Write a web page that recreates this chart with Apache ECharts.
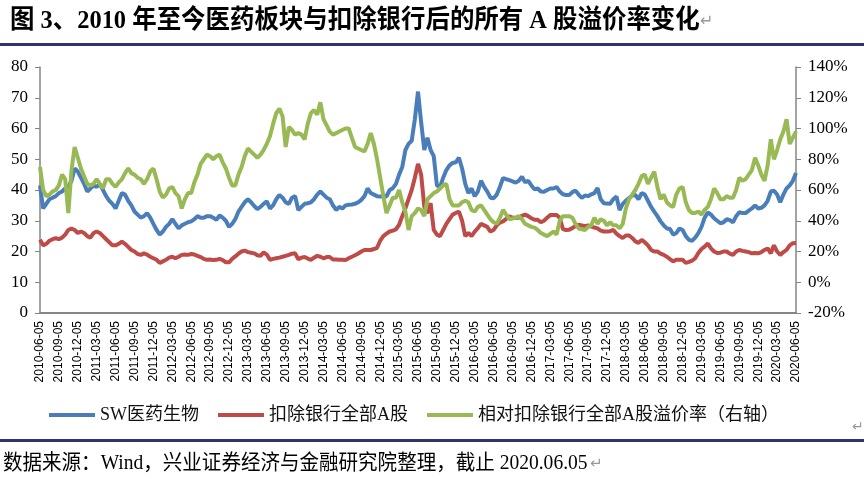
<!DOCTYPE html>
<html>
<head>
<meta charset="utf-8">
<script src="https://cdn.jsdelivr.net/npm/echarts@6/dist/echarts.min.js"></script>
<style>
html,body{margin:0;padding:0;background:#fff;}
#chart{width:864px;height:479px;}
</style>
</head>
<body>
<div id="chart"></div>
<script>
// Semi-monthly readings, 2010-06-05 .. 2020-06-05
const pharmaPE = [
41.5,34,35.5,37,37.5,38,39,39.5,40.5,41,43,47,46,44,42,39.5,40.5,41.5,41,42,40,38,36.5,35.5,34,36.5,39,38.5,36.5,35,33,32,31,31.5,32.5,31,29,27,25.5,26.5,28,29,30.5,29,27.5,28.5,29,29.5,
29.8,30.5,31.5,31,31,31.5,31.5,31,30.3,31.7,31,30,28,29,30.5,33,34.5,36,37,36,34.8,33.8,34.5,35.5,36.3,34,35,37,38.4,37.5,36,35.5,37.5,38,33.5,34.5,35.5,35.7,36,37,38.5,39.5,38.5,37.5,37,35,33.5,34.5,
34,35,35.2,35.3,35.5,36,36.8,38,40.5,39,38.5,38,37.9,38,37.9,40,40.6,42,45,47.5,53,55,56,63,72,62,53,57,53,51,41.5,41,44,46.5,48,48.8,49,50.5,47,42,39,40.5,38,39.5,43,41,39.5,37.5,
37.3,38.5,41,43.9,43.5,43.2,42.8,42.4,43,44.3,42.5,43,41.5,40.2,40.5,39.5,39.4,40,40.5,40.5,41,39.5,38.6,38.4,38.4,39.3,39.8,38.5,37.4,38.2,38,38.6,39,40.6,37,35.7,35.6,35.5,37,37.9,33.5,35.5,36.5,37.4,38.2,38.4,37,
39,38.5,36.5,34.5,33,31.5,29.8,28.5,27.5,27.3,25.5,26,27.5,27,25,23.8,23.5,24.5,26,28,31,32.7,32,30.8,30,29.2,29.5,30.5,30.2,29.5,31.5,32.8,32.5,32.5,33.3,34,35,34,34.2,35,36.5,39.5,39.8,38.5,36,38.5,40.5,41.5,43,45.5
];
const allAexBankPE = [
23.8,22,22.5,23.5,24,24.3,24,24.5,25.5,27,27.5,27,26,26.5,26,25,24.5,26,26.5,26,25,24,23,22,22,22.5,23.2,22.5,21.5,20.5,20,19.2,18.9,19.4,19,18.3,17.8,17.3,16.3,16.8,17.3,18,18.3,17.8,18.3,18.9,19,18.9,
19.2,19,18.6,18.2,17.6,17.3,17.4,17.2,17.3,17.6,17.2,16.5,16.5,17.6,18.4,19.3,20,20.3,19.8,19.6,19.4,18.8,18.6,19.7,19,17.3,17.6,17.8,18,18.3,18.6,18.9,19.3,19.4,17.5,18,18.2,17.7,17.3,18,18.6,18.3,17.8,18.2,18.2,17.4,17.4,17.3,
17.3,17.2,17.8,18.3,18.8,19.3,20,20.5,20.5,20.5,20.8,21.2,23.5,25,25.8,26.5,26.8,27.2,28.7,31.5,34,37,40,44,48.5,45,34.6,32.5,35.7,27,25.5,25,27,29,30.5,32,32.5,33,30,25,26,25,26.5,27.6,29,28.5,28,26.5,
27,28.5,29.4,29.8,30.6,31.4,31,31,31,31.6,32,31.5,30.8,30.3,30.3,29.5,30,31,31.9,31.9,31.9,31,27.3,27,27.1,27.6,28.3,28.7,28.5,28.2,28.5,28.1,27.8,27.5,26.8,26.5,26.5,26.6,27,25.8,25,24.4,25.2,25.2,24.4,23.3,22.8,
23.8,23,22,20.5,20,20,19.3,18.9,18.3,17.5,16.8,17.3,17.3,17.3,16.3,16.6,17,17.8,19.5,20.8,21.6,22.6,21,20,19.5,19.6,20,20,19.3,18.9,20,20.5,20.2,20,19.8,19.4,19.5,19.4,19.8,20.5,21,19.4,22,20,18.9,19.8,20.5,22,22.7,22.8
];
const premiumPct = [
75,60,56,57,59,60,63,70,67,45,73,88,81,74,69,64,63,64,67,64,61,67,67,64,62,65,67,71,74,71,70,68,67,64,67,72,74,67,59,55,57,61,62,58,56,48,54,58,
58,65,70,77,80,83,82,80,82,83,78,74,68,63,63,70,75,82,87,85,83,81,83,86,90,95,103,110,113,108,88,101,99,96,97,96,93,103,110,112,109,117,106,102,98,96,97,98,
99,100,100,94,88,87,86,85,90,97,90,80,68,56,45,50,55,55,60,52,46,34,43,45,48,47,43,54,56,58,59,61,63,64,54,50,50,50,52,53,52,47,46,49,50,47,44,41,
39,38,42,47,44,41,41.5,42,43,41,38,37,36,35.5,34,32,31,30,31.5,33,31,40,43,43,43,42,38,35,34.5,34,36,37,42,38,41,40,37,39,37,37,35,38,48,54,57,60,64,
69,70,64,68,72,62,54,57,52,50,49,57,61,62,52,47,45,45,46,44,47,49,54,61,58,54,54,56,55,55,60,68,66,67,70,73,81,76,70,66,76,93,80,86,93,98,106,90,94,98
];
const tickLabels = [
'2010-06-05','2010-09-05','2010-12-05','2011-03-05','2011-06-05','2011-09-05','2011-12-05',
'2012-03-05','2012-06-05','2012-09-05','2012-12-05','2013-03-05','2013-06-05','2013-09-05','2013-12-05',
'2014-03-05','2014-06-05','2014-09-05','2014-12-05','2015-03-05','2015-06-05','2015-09-05','2015-12-05',
'2016-03-05','2016-06-05','2016-09-05','2016-12-05','2017-03-05','2017-06-05','2017-09-05','2017-12-05',
'2018-03-05','2018-06-05','2018-09-05','2018-12-05','2019-03-05','2019-06-05','2019-09-05','2019-12-05',
'2020-03-05','2020-06-05'
];
const seriesNames = ['SW医药生物','扣除银行全部A股','相对扣除银行全部A股溢价率（右轴）'];

// category dates: the 5th and 20th of each month from 2010-06
const dates = pharmaPE.map((_, i) => {
  const m = 5 + Math.floor(i / 2);
  const y = 2010 + Math.floor(m / 12);
  const mm = (m % 12) + 1;
  return y + '-' + String(mm).padStart(2, '0') + '-' + (i % 2 ? '20' : '05');
});
const tickSet = new Set(tickLabels);

const serif = '"Liberation Serif","Noto Sans CJK SC"';
const chart = echarts.init(document.getElementById('chart'));
chart.setOption({
  animation: false,
  backgroundColor: '#fff',
  grid: {left: 40, right: 68, top: 67, bottom: 166, containLabel: false},
  legend: {
    data: seriesNames,
    left: 44, top: 401,
    icon: 'rect', itemWidth: 46, itemHeight: 4, itemGap: 19,
    textStyle: {fontFamily: serif, fontSize: 18, color: '#111'}
  },
  xAxis: {
    type: 'category', data: dates, boundaryGap: false,
    axisLine: {lineStyle: {color: '#868686', width: 2}},
    axisTick: {show: false},
    axisLabel: {
      rotate: 90, margin: 8, fontSize: 12, fontFamily: 'Liberation Sans', color: '#000',
      interval: (idx, val) => tickSet.has(val)
    },
    splitLine: {show: false}
  },
  yAxis: [
    {
      type: 'value', min: 0, max: 80, interval: 10, position: 'left',
      axisLine: {show: true, lineStyle: {color: '#868686', width: 1.5}},
      axisTick: {show: true, length: 5, lineStyle: {color: '#868686'}},
      axisLabel: {fontSize: 17, fontFamily: 'Liberation Serif', color: '#000', margin: 12},
      splitLine: {show: false}
    },
    {
      type: 'value', min: -20, max: 140, interval: 20, position: 'right',
      axisLine: {show: true, lineStyle: {color: '#868686', width: 1.5}},
      axisTick: {show: true, length: 5, lineStyle: {color: '#868686'}},
      axisLabel: {fontSize: 17, fontFamily: 'Liberation Serif', color: '#000', margin: 12, formatter: '{value}%'},
      splitLine: {show: false}
    }
  ],
  series: [
    {name: seriesNames[0], type: 'line', yAxisIndex: 0, data: pharmaPE, symbol: 'none',
     itemStyle: {color: '#4A7EBB'}, lineStyle: {color: '#4A7EBB', width: 4}},
    {name: seriesNames[1], type: 'line', yAxisIndex: 0, data: allAexBankPE, symbol: 'none',
     itemStyle: {color: '#BE4B48'}, lineStyle: {color: '#BE4B48', width: 4}},
    {name: seriesNames[2], type: 'line', yAxisIndex: 1, data: premiumPct, symbol: 'none',
     itemStyle: {color: '#98B954'}, lineStyle: {color: '#98B954', width: 4}}
  ],
  graphic: [
    {type: 'text', x: 10, y: 8, scaleX: 0.94, originX: 0, originY: 0,
     style: {text: '图 3、2010 年至今医药板块与扣除银行后的所有 A 股溢价率变化',
             font: 'bold 26px ' + serif, fill: '#000'}},
    {type: 'text', x: 700, y: 14, style: {text: '↵', font: '16px "DejaVu Sans"', fill: '#999'}},
    {type: 'rect', shape: {x: 0, y: 43, width: 864, height: 3}, style: {fill: '#33336b'}},
    {type: 'rect', shape: {x: 0, y: 439, width: 864, height: 3}, style: {fill: '#33336b'}},
    {type: 'text', x: 852, y: 420, style: {text: '↵', font: '14px "DejaVu Sans"', fill: '#999'}},
    {type: 'text', x: 3, y: 453, scaleX: 0.93, originX: 0, originY: 0,
     style: {text: '数据来源：Wind，兴业证券经济与金融研究院整理，截止 2020.06.05',
             font: '21px ' + serif, fill: '#000'}},
    {type: 'text', x: 590, y: 457, style: {text: '↵', font: '15px "DejaVu Sans"', fill: '#999'}}
  ]
});
</script>
</body>
</html>
